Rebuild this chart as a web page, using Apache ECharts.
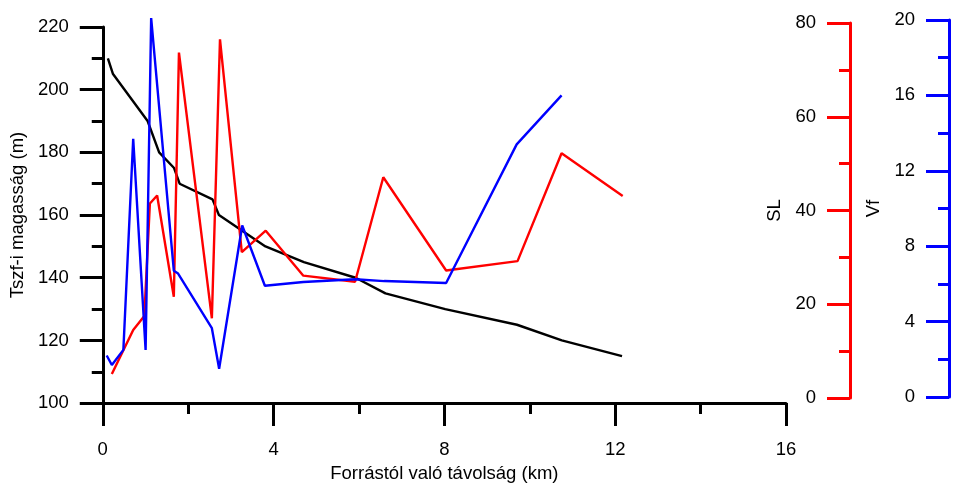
<!DOCTYPE html>
<html>
<head>
<meta charset="utf-8">
<script src="https://cdn.jsdelivr.net/npm/echarts@6/dist/echarts.min.js"></script>
<style>
  html, body { margin: 0; padding: 0; background: #fff; }
  #chart { width: 955px; height: 488px; }
</style>
</head>
<body>
<div id="chart"></div>
<script>
// Elevation profile along the stream (left axis)
var elevDist = [0.12, 0.24, 1.05, 1.32, 1.67, 1.8, 2.57, 2.72, 3.81, 4.71, 5.92, 6.62, 8.02, 9.7, 10.75, 12.16];
var elevation = [210, 205, 190, 180, 175, 170, 165, 160, 150, 145, 140, 135, 130, 125, 120, 115];

// Stream length gradient index SL (red axis)
var slDist = [0.23, 0.73, 0.99, 1.12, 1.29, 1.68, 1.8, 2.57, 2.76, 3.27, 3.83, 4.71, 5.92, 6.58, 8.05, 9.72, 10.75, 12.18];
var slValues = [5.1, 14.5, 17.5, 41.5, 43.2, 21.6, 73.7, 17.0, 76.5, 31.1, 35.7, 26.1, 24.8, 47.1, 27.2, 29.2, 52.2, 43.1];

// Valley floor width to height ratio Vf (blue axis)
var vfDist = [0.11, 0.23, 0.5, 0.73, 1.02, 1.15, 1.68, 1.78, 2.57, 2.74, 3.28, 3.81, 4.71, 5.92, 6.6, 8.05, 9.7, 10.75];
var vfValues = [2.2, 1.7, 2.5, 13.7, 2.5, 20.1, 6.7, 6.55, 3.65, 1.5, 9.1, 5.9, 6.1, 6.25, 6.15, 6.05, 13.4, 16.0];

// Axis ranges
var xRange = [0, 16, 4];
var elevRange = [100, 220, 20];
var slRange = [0, 80, 20];
var vfRange = [0, 20, 4];

function pairs(xs, ys) {
  return xs.map(function (x, i) { return [x, ys[i]]; });
}

var FONT = '"Liberation Sans", Arial, sans-serif';
var FS = 18.5;
var AXIS_W = 3;

function yAxisStyle(color, range, extra) {
  var base = {
    type: 'value',
    min: range[0], max: range[1], interval: range[2],
    position: 'left',
    nameLocation: 'middle',
    nameRotate: 90,
    nameTextStyle: { color: '#000', fontFamily: FONT, fontSize: FS },
    axisLine: { show: true, onZero: false, lineStyle: { color: color, width: AXIS_W } },
    axisTick: { show: true, length: 23, lineStyle: { color: color, width: AXIS_W } },
    minorTick: { show: true, splitNumber: 2, length: 11, lineStyle: { color: color, width: AXIS_W } },
    axisLabel: { color: '#000', fontFamily: FONT, fontSize: FS, margin: 34 },
    splitLine: { show: false },
    minorSplitLine: { show: false }
  };
  for (var k in extra) base[k] = extra[k];
  return base;
}

function hiddenX(gridIndex) {
  return { type: 'value', gridIndex: gridIndex, min: xRange[0], max: xRange[1], show: false };
}

var chart = echarts.init(document.getElementById('chart'), null, { renderer: 'canvas' });

chart.setOption({
  backgroundColor: '#fff',
  animation: false,
  grid: [
    { left: 102, top: 27, width: 684, height: 380 },
    { left: 102, top: 23, width: 684, height: 375 },
    { left: 102, top: 20, width: 684, height: 377 }
  ],
  xAxis: [
    {
      type: 'value', gridIndex: 0,
      min: xRange[0], max: xRange[1], interval: xRange[2],
      name: 'Forrástól való távolság (km)',
      nameLocation: 'middle', nameGap: 56,
      nameTextStyle: { color: '#000', fontFamily: FONT, fontSize: FS },
      axisLine: { show: true, onZero: false, lineStyle: { color: '#000', width: AXIS_W } },
      axisTick: { show: true, length: 23, lineStyle: { color: '#000', width: AXIS_W } },
      minorTick: { show: true, splitNumber: 2, length: 11, lineStyle: { color: '#000', width: AXIS_W } },
      axisLabel: { color: '#000', fontFamily: FONT, fontSize: FS, margin: 37 },
      splitLine: { show: false }
    },
    hiddenX(1),
    hiddenX(2)
  ],
  yAxis: [
    yAxisStyle('#000', elevRange, { gridIndex: 0, name: 'Tszf-i magasság (m)', nameGap: 72 }),
    yAxisStyle('#ff0000', slRange, { gridIndex: 1, name: 'SL', nameGap: 60, offset: -748 }),
    yAxisStyle('#0000ff', vfRange, { gridIndex: 2, name: 'Vf', nameGap: 61, offset: -847 })
  ],
  series: [
    {
      type: 'line', xAxisIndex: 0, yAxisIndex: 0,
      data: pairs(elevDist, elevation),
      showSymbol: false, symbol: 'none', clip: false,
      lineStyle: { color: '#000', width: 2.4 }
    },
    {
      type: 'line', xAxisIndex: 1, yAxisIndex: 1,
      data: pairs(slDist, slValues),
      showSymbol: false, symbol: 'none', clip: false,
      lineStyle: { color: '#ff0000', width: 2.4 }
    },
    {
      type: 'line', xAxisIndex: 2, yAxisIndex: 2,
      data: pairs(vfDist, vfValues),
      showSymbol: false, symbol: 'none', clip: false,
      lineStyle: { color: '#0000ff', width: 2.4 }
    }
  ]
});
</script>
</body>
</html>
